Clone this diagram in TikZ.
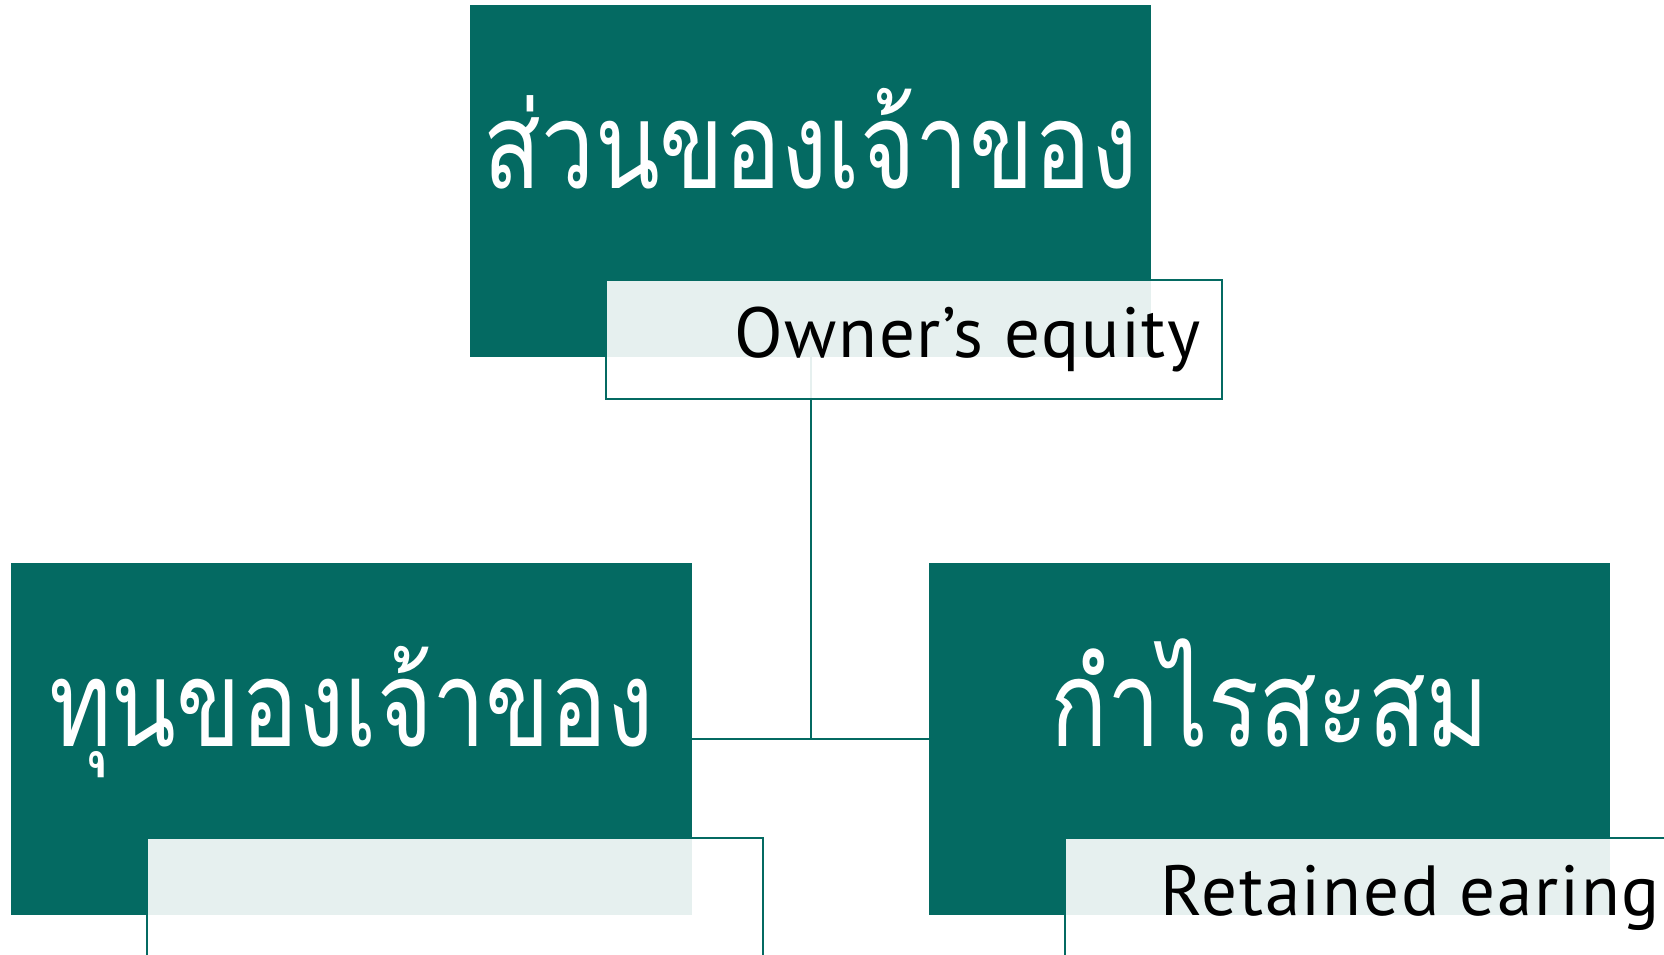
\documentclass[tikz,border=0pt]{standalone}
\usepackage{fontspec}
\setmainfont{PT Sans}[LetterSpace=2.4]
\newfontfamily\thaifont[Script=Thai,FakeStretch=0.79]{Loma}
\usetikzlibrary{calc,positioning}
\definecolor{eqteal}{RGB}{4,106,98}
\tikzstyle{darkbox}=[rectangle,fill=eqteal,minimum width=681pt,minimum height=352pt,inner sep=0pt]
\tikzstyle{lightbox}=[rectangle,draw=eqteal,line width=2.2pt,fill=white,fill opacity=0.9,minimum width=616pt,minimum height=119pt,inner sep=0pt,anchor=north west]
\tikzstyle{thaitext}=[text=white,font=\thaifont\fontsize{120}{140}\selectfont,inner sep=0pt,anchor=base]
\tikzstyle{engtext}=[text=black,font=\fontsize{71}{85}\selectfont,inner sep=0pt,anchor=base east]
\tikzstyle{link}=[draw=eqteal,line width=2pt]

\begin{document}
\begin{tikzpicture}[x=1pt,y=-1pt]
    \useasboundingbox (0,0) rectangle (1664,955);

    % main boxes and their thai titles
    \foreach \pos/\name/\thai in {{(810.5,181)/own/ส่วนของเจ้าของ}, {(351.5,739)/cap/ทุนของเจ้าของ}, {(1269.5,739)/ret/กำไรสะสม}} {
        \node[darkbox] (\name) at \pos {};
        \node[thaitext] (\name-title) at ($(\name.north)+(0,184)$) {\thai};
    }

    % tree lines
    \path[link] (own.south) -- (own.south |- cap.east);
    \path[link] (cap.east) -- (ret.west);

    % caption boxes
    \foreach \name in {own,cap,ret}
        \node[lightbox] (\name-sub) at ($(\name.north west)+(135,274)$) {};

    \node[engtext] (own-eng) at ($(own-sub.north east)+(-22,79)$) {Owner’s equity};
    \node[engtext] (ret-eng) at ($(ret-sub.north east)+(-22,79)$) {Retained earing};

\end{tikzpicture}
\end{document}
